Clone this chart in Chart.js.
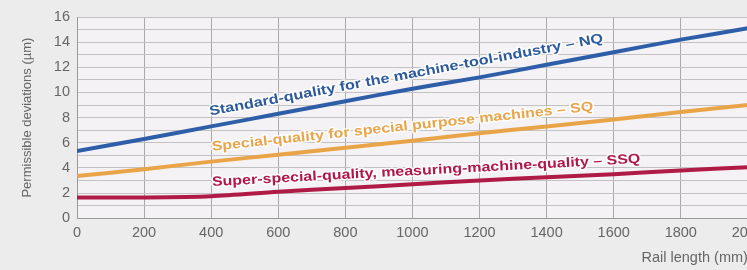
<!DOCTYPE html>
<html>
<head>
<meta charset="utf-8">
<script src="https://cdn.jsdelivr.net/npm/chart.js@4.4.1/dist/chart.umd.min.js"></script>
<style>
    html, body { margin: 0; padding: 0; overflow: hidden; background: #ececec; }
    #wrap { position: absolute; left: 0; top: 0; width: 770px; height: 270px; }
</style>
</head>
<body>
<div id="wrap"><canvas id="chart" width="770" height="270"></canvas></div>
<script>
// rail length (mm) and permissible deviations (µm)
const railLength = [0, 200, 400, 600, 800, 1000, 1200, 1400, 1600, 1800, 2000];
const nqValues  = [5.35, 6.3, 7.3, 8.3, 9.3, 10.3, 11.2, 12.2, 13.2, 14.2, 15.1];
const sqValues  = [3.35, 3.9, 4.5, 5.05, 5.6, 6.15, 6.75, 7.3, 7.85, 8.45, 9.0];
const ssqValues = [1.65, 1.65, 1.75, 2.1, 2.4, 2.7, 3.0, 3.25, 3.5, 3.8, 4.05];

const xTickLabels = ['0', '200', '400', '600', '800', '1000', '1200', '1400', '1600', '1800', '2000'];
const yTickLabels = ['0', '2', '4', '6', '8', '10', '12', '14', '16'];

// text written along each line: [from length, from value] -> [to length, to value]
const lineLabels = [
    { text: 'Standard-quality for the machine-tool-industry – NQ', from: [397, 8.16], to: [1570, 14.0], color: '#2c5a9c' },
    { text: 'Special-quality for special purpose machines – SQ', from: [403, 5.36], to: [1540, 8.56], color: '#e8a64c' },
    { text: 'Super-special-quality, measuring-machine-quality – SSQ', from: [403, 2.56], to: [1680, 4.4], color: '#b0184a' }
];

const tickFont = { family: '"Liberation Sans", Arial, sans-serif', size: 14.5 };

function toPoints(values) {
    return railLength.map((l, i) => ({ x: l, y: values[i] }));
}

// plot area background
const plotBg = {
    id: 'plotBg',
    beforeDraw(chart) {
        const a = chart.chartArea;
        const ctx = chart.ctx;
        ctx.save();
        ctx.fillStyle = '#f4f2f5';
        ctx.fillRect(a.left, a.top, a.right - a.left, a.bottom - a.top);
        ctx.restore();
    }
};

// labels drawn along the lines
const lineText = {
    id: 'lineText',
    afterDatasetsDraw(chart) {
        const ctx = chart.ctx;
        const xs = chart.scales.x, ys = chart.scales.y;
        lineLabels.forEach(lb => {
            const x0 = xs.getPixelForValue(lb.from[0]), y0 = ys.getPixelForValue(lb.from[1]);
            const x1 = xs.getPixelForValue(lb.to[0]), y1 = ys.getPixelForValue(lb.to[1]);
            const ang = Math.atan2(y1 - y0, x1 - x0);
            const len = Math.hypot(x1 - x0, y1 - y0);
            ctx.save();
            ctx.font = 'bold 13.5px "Liberation Sans", Arial, sans-serif';
            const w = ctx.measureText(lb.text).width;
            ctx.translate(x0, y0);
            ctx.rotate(ang);
            ctx.scale(len / w, 1);
            ctx.textBaseline = 'alphabetic';
            ctx.lineJoin = 'round';
            ctx.strokeStyle = 'rgba(255,255,255,0.85)';
            ctx.lineWidth = 3;
            ctx.strokeText(lb.text, 0, 0);
            ctx.fillStyle = lb.color;
            ctx.fillText(lb.text, 0, 0);
            ctx.restore();
        });
    }
};

const ctx = document.getElementById('chart').getContext('2d');
new Chart(ctx, {
    type: 'line',
    data: {
        datasets: [
            { label: 'NQ', data: toPoints(nqValues), borderColor: '#2e5ea8', borderWidth: 4, pointRadius: 0, tension: 0.3 },
            { label: 'SQ', data: toPoints(sqValues), borderColor: '#eaa448', borderWidth: 4, pointRadius: 0, tension: 0.3 },
            { label: 'SSQ', data: toPoints(ssqValues), borderColor: '#b01a46', borderWidth: 4, pointRadius: 0, tension: 0.3 }
        ]
    },
    options: {
        responsive: false,
        animation: false,
        layout: { padding: { top: 17, left: 0, right: 0, bottom: 0 } },
        plugins: {
            legend: { display: false },
            tooltip: { enabled: false }
        },
        scales: {
            x: {
                type: 'linear',
                min: 0,
                max: 2000,
                border: { color: '#9a9a9a' },
                grid: { color: '#a9a9a9', drawTicks: false },
                ticks: {
                    stepSize: 200,
                    padding: 6,
                    maxRotation: 0,
                    color: '#666',
                    font: tickFont,
                    callback: (v) => xTickLabels.includes(String(v)) ? String(v) : ''
                },
                title: {
                    display: true,
                    text: 'Rail length (mm)',
                    align: 'end',
                    color: '#666',
                    padding: { top: 2, bottom: 3 },
                    font: tickFont
                }
            },
            y: {
                min: 0,
                max: 16,
                border: { color: '#9a9a9a' },
                grid: { color: '#c2c2c2', drawTicks: false },
                ticks: {
                    stepSize: 1,
                    padding: 7,
                    autoSkip: false,
                    color: '#666',
                    font: tickFont,
                    callback: (v) => yTickLabels.includes(String(v)) ? String(v) : ''
                },
                title: {
                    display: true,
                    text: 'Permissible deviations (µm)',
                    color: '#666',
                    padding: { top: 20, bottom: 4 },
                    font: { family: '"Liberation Sans", Arial, sans-serif', size: 13 }
                },
                afterFit: (scale) => { scale.width = 77; }
            }
        }
    },
    plugins: [plotBg, lineText]
});
</script>
</body>
</html>
